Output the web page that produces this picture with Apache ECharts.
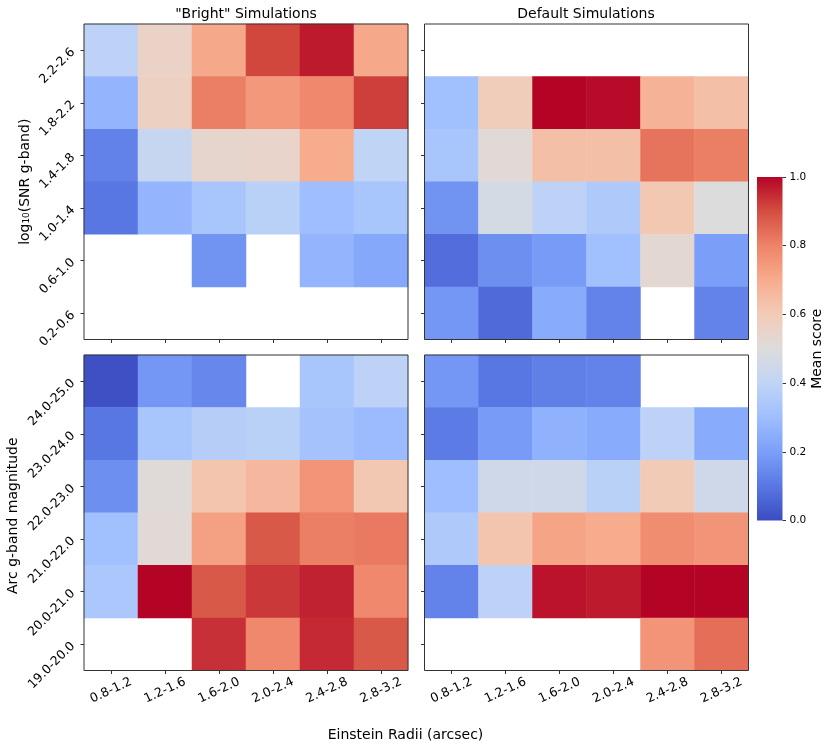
<!DOCTYPE html>
<html>
<head>
<meta charset="utf-8">
<style>html,body{margin:0;padding:0;background:#fff}#main{width:830px;height:749px}</style>
<script src="https://cdn.jsdelivr.net/npm/echarts@6/dist/echarts.min.js"></script>
</head>
<body>
<div id="main"></div>
<script>
var radii = ['0.8-1.2', '1.2-1.6', '1.6-2.0', '2.0-2.4', '2.4-2.8', '2.8-3.2'];
var snrBins = ['2.2-2.6', '1.8-2.2', '1.4-1.8', '1.0-1.4', '0.6-1.0', '0.2-0.6'];
var magBins = ['24.0-25.0', '23.0-24.0', '22.0-23.0', '21.0-22.0', '20.0-21.0', '19.0-20.0'];

// rows run top to bottom as in the figure, null = no simulations in that bin
var brightSnr = [
	[0.39, 0.56, 0.71, 0.91, 0.97, 0.71],
	[0.27, 0.57, 0.81, 0.75, 0.79, 0.92],
	[0.125, 0.42, 0.54, 0.55, 0.70, 0.40],
	[0.10, 0.27, 0.33, 0.38, 0.30, 0.33],
	[null, null, 0.17, null, 0.27, 0.23],
	[null, null, null, null, null, null]
];
var defaultSnr = [
	[null, null, null, null, null, null],
	[0.31, 0.59, 1.00, 0.99, 0.68, 0.64],
	[0.33, 0.52, 0.64, 0.64, 0.83, 0.81],
	[0.17, 0.47, 0.39, 0.35, 0.61, 0.50],
	[0.08, 0.16, 0.19, 0.31, 0.53, 0.20],
	[0.18, 0.07, 0.24, 0.13, null, 0.13]
];
var brightMag = [
	[0.01, 0.18, 0.14, null, 0.33, 0.39],
	[0.10, 0.33, 0.37, 0.38, 0.32, 0.29],
	[0.16, 0.51, 0.62, 0.66, 0.76, 0.61],
	[0.31, 0.52, 0.73, 0.88, 0.81, 0.82],
	[0.34, 1.00, 0.88, 0.93, 0.96, 0.79],
	[null, null, 0.94, 0.79, 0.95, 0.88]
];
var defaultMag = [
	[0.18, 0.10, 0.12, 0.13, null, null],
	[0.11, 0.19, 0.26, 0.24, 0.39, 0.24],
	[0.30, 0.45, 0.45, 0.38, 0.60, 0.45],
	[0.35, 0.62, 0.72, 0.70, 0.78, 0.76],
	[0.13, 0.39, 0.98, 0.97, 1.00, 1.00],
	[null, null, null, null, 0.76, 0.84]
];
var coolwarm = ['#3b4cc0', '#5977e3', '#7b9ff9', '#9ebeff', '#c0d4f5', '#dddcdc', '#f2cbb7', '#f7ac8e', '#ee8468', '#d44e41', '#b40426'];

var font = 'DejaVu Sans';
var dom = document.getElementById('main');
var myChart = echarts.init(dom);

function cells(rows) {
	var out = [];
	rows.forEach(function(row, y) {
		row.forEach(function(v, x) {
			if (v !== null) out.push([x, y, v]);
		});
	});
	return out;
}

var panels = [
	{ left: 84, top: 24, rows: brightSnr, ycats: snrBins, xlab: false, ylab: true, yname: 'log\u2081\u2080(SNR g-band)' },
	{ left: 424.5, top: 24, rows: defaultSnr, ycats: snrBins, xlab: false, ylab: false },
	{ left: 84, top: 355, rows: brightMag, ycats: magBins, xlab: true, ylab: true, yname: 'Arc g-band magnitude' },
	{ left: 424.5, top: 355, rows: defaultMag, ycats: magBins, xlab: true, ylab: false }
];

var grids = [], xAxes = [], yAxes = [], series = [];
panels.forEach(function(p, i) {
	grids.push({ left: p.left, top: p.top, width: 324, height: 315.5, show: true, borderColor: '#333', borderWidth: 1, backgroundColor: 'transparent', z: 5 });
	xAxes.push({
		type: 'category', gridIndex: i, data: radii, position: 'bottom',
		axisLine: { show: false, onZero: false },
		axisTick: { show: true, alignWithLabel: true, length: 3.5, lineStyle: { color: '#333' } },
		axisLabel: { show: p.xlab, interval: 0, rotate: 25, margin: 20, align: 'center', verticalAlign: 'middle', color: '#000', fontFamily: font, fontSize: 12.5 },
		splitLine: { show: false }, z: 6
	});
	yAxes.push({
		type: 'category', gridIndex: i, data: p.ycats, inverse: true,
		name: p.yname || '', nameLocation: 'middle', nameRotate: 90, nameGap: i === 0 ? 52 : 64,
		nameTextStyle: { color: '#000', fontFamily: font, fontSize: 14, padding: i === 2 ? [0, 6, 0, 0] : 0 },
		axisLine: { show: false, onZero: false },
		axisTick: { show: true, alignWithLabel: true, length: 3.5, lineStyle: { color: '#333' } },
		axisLabel: { show: p.ylab, interval: 0, rotate: 45, margin: 11, color: '#000', fontFamily: font, fontSize: 12.5 },
		splitLine: { show: false }, z: 6
	});
	series.push({ type: 'heatmap', xAxisIndex: i, yAxisIndex: i, data: cells(p.rows), itemStyle: { borderWidth: 0 }, emphasis: { disabled: true } });
});

// colour bar: one full-height bar on its own 0-1 axis
grids.push({ left: 757, top: 177, width: 25.5, height: 343.5, show: false });
xAxes.push({ type: 'category', gridIndex: 4, data: ['Mean score'], axisLine: { show: false }, axisTick: { show: false }, axisLabel: { show: false } });
yAxes.push({
	type: 'value', gridIndex: 4, position: 'right', min: 0, max: 1, interval: 0.2,
	name: 'Mean score', nameLocation: 'middle', nameRotate: 90, nameGap: 25,
	nameTextStyle: { color: '#000', fontFamily: font, fontSize: 14 },
	axisLine: { show: false },
	axisTick: { show: true, length: 3.5, lineStyle: { color: '#333' } },
	axisLabel: { margin: 7, color: '#000', fontFamily: font, fontSize: 10.5, formatter: function(v) { return v.toFixed(1); } },
	splitLine: { show: false }
});
series.push({
	type: 'bar', xAxisIndex: 4, yAxisIndex: 4, data: [1], barWidth: '100%', silent: true,
	itemStyle: {
		color: new echarts.graphic.LinearGradient(0, 1, 0, 0, coolwarm.map(function(c, i) {
			return { offset: i / (coolwarm.length - 1), color: c };
		}))
	}
});

var option = {
	animation: false,
	backgroundColor: '#fff',
	textStyle: { fontFamily: font },
	title: [
		{ text: '"Bright" Simulations', left: 241, top: 2, textAlign: 'center', textStyle: { color: '#000', fontFamily: font, fontSize: 14, fontWeight: 'normal' } },
		{ text: 'Default Simulations', left: 581, top: 2, textAlign: 'center', textStyle: { color: '#000', fontFamily: font, fontSize: 14, fontWeight: 'normal' } },
		{ text: 'Einstein Radii (arcsec)', left: 400.5, top: 723, textAlign: 'center', textStyle: { color: '#000', fontFamily: font, fontSize: 14, fontWeight: 'normal' } }
	],
	visualMap: { show: false, min: 0, max: 1, seriesIndex: [0, 1, 2, 3], inRange: { color: coolwarm } },
	grid: grids,
	xAxis: xAxes,
	yAxis: yAxes,
	series: series
};
myChart.setOption(option);
</script>
</body>
</html>
